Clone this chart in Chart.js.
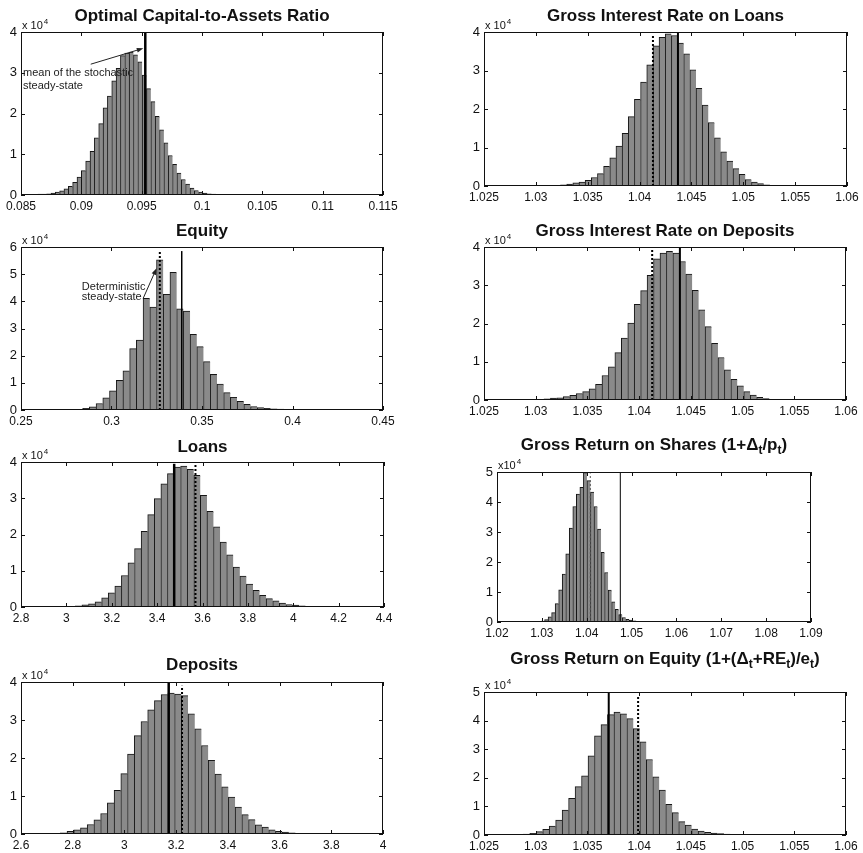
<!DOCTYPE html>
<html>
<head>
<meta charset="utf-8">
<script src="https://cdn.jsdelivr.net/npm/chart.js@4.4.1/dist/chart.umd.min.js"></script>
<style>
  body { margin: 0; background: #fff; }
  #wrap { position: relative; width: 863px; height: 853px; overflow: hidden; }
  #wrap canvas { position: absolute; }
</style>
</head>
<body>
<div id="wrap"></div>
<script>
// ---- data (counts in units of 10^4) ----
const capTicksX = [0.085, 0.09, 0.095, 0.1, 0.105, 0.11, 0.115];
const capTicksY = [0, 1, 2, 3, 4];
const capBinStart = 0.08586, capBinWidth = 0.00036;
const capCounts = [0.01,0.01,0.02,0.02,0.03,0.05,0.07,0.10,0.15,0.21,0.31,0.44,0.60,0.83,1.07,1.40,1.75,2.14,2.43,2.80,3.11,3.42,3.48,3.51,3.44,3.27,2.94,2.61,2.29,1.93,1.60,1.28,0.97,0.75,0.54,0.38,0.27,0.17,0.11,0.07,0.05,0.03,0.02,0.01,0.01,0.01,0.005,0.005,0.004,0.003];
const capMean = 0.0953;

const loanRateTicksX = [1.025, 1.03, 1.035, 1.04, 1.045, 1.05, 1.055, 1.06];
const loanRateTicksY = [0, 1, 2, 3, 4];
const loanRateBinStart = 1.02792, loanRateBinWidth = 0.000594;
const loanRateCounts = [0.005,0.005,0.01,0.01,0.01,0.01,0.02,0.02,0.03,0.05,0.08,0.10,0.15,0.22,0.32,0.51,0.73,1.04,1.37,1.80,2.25,2.70,3.15,3.64,3.86,3.95,3.91,3.71,3.43,3.02,2.54,2.10,1.65,1.25,0.89,0.65,0.45,0.30,0.17,0.10,0.06,0.03,0.02,0.01,0.01,0.01,0.005,0.005,0.005,0.003];
const loanRateSteady = 1.04129, loanRateMean = 1.04370;

const equityTicksX = [0.25, 0.3, 0.35, 0.4, 0.45];
const equityTicksY = [0, 1, 2, 3, 4, 5, 6];
const equityBinStart = 0.27107, equityBinWidth = 0.00371;
const equityCounts = [0.005,0.01,0.01,0.02,0.06,0.12,0.24,0.45,0.71,1.09,1.44,2.26,2.57,4.11,3.79,5.53,4.26,5.07,3.72,3.64,2.79,2.33,1.78,1.31,0.95,0.64,0.47,0.32,0.21,0.13,0.09,0.06,0.04,0.03,0.02,0.01,0.01,0.005,0.005,0.005,0.003,0.003,0.002];
const equitySteady = 0.3267, equityMean = 0.3388;

const depRateTicksX = [1.025, 1.03, 1.035, 1.04, 1.045, 1.05, 1.055, 1.06];
const depRateTicksY = [0, 1, 2, 3, 4];
const depRateBinStart = 1.02675, depRateBinWidth = 0.000623;
const depRateCounts = [0.005,0.005,0.005,0.01,0.01,0.01,0.02,0.03,0.05,0.06,0.09,0.12,0.17,0.22,0.29,0.41,0.64,0.87,1.24,1.62,2.01,2.50,2.86,3.26,3.69,3.84,3.89,3.84,3.62,3.29,2.87,2.36,1.92,1.48,1.11,0.79,0.54,0.37,0.22,0.13,0.07,0.04,0.02,0.01,0.01,0.01,0.005,0.005,0.005,0.003];
const depRateSteady = 1.04126, depRateMean = 1.04394;

const loansTicksX = [2.8, 3, 3.2, 3.4, 3.6, 3.8, 4, 4.2, 4.4];
const loansTicksY = [0, 1, 2, 3, 4];
const loansBinStart = 2.909, loansBinWidth = 0.029;
const loansCounts = [0.005,0.005,0.01,0.01,0.02,0.03,0.06,0.09,0.14,0.25,0.39,0.58,0.87,1.22,1.61,2.09,2.55,2.99,3.40,3.68,3.86,3.89,3.80,3.63,3.08,2.64,2.21,1.79,1.44,1.10,0.85,0.63,0.46,0.32,0.23,0.17,0.11,0.07,0.05,0.03,0.02,0.01,0.01,0.01,0.005,0.005,0.005,0.005,0.003];
const loansMean = 3.4752, loansSteady = 3.569;

const shareTicksX = [1.02, 1.03, 1.04, 1.05, 1.06, 1.07, 1.08, 1.09];
const shareTicksY = [0, 1, 2, 3, 4, 5];
const shareBinStart = 1.02706, shareBinWidth = 0.000787;
const shareCounts = [0.005,0.01,0.01,0.02,0.03,0.08,0.17,0.31,0.61,1.07,1.60,2.27,3.13,3.85,4.26,4.49,4.98,4.71,4.33,3.85,3.10,2.32,1.65,1.06,0.67,0.42,0.25,0.15,0.09,0.06,0.04,0.02,0.02,0.01,0.01,0.01,0.005,0.005,0.005,0.005,0.005,0.003,0.003,0.003,0.002,0.002];
const shareSteady = 1.0408, shareMean = 1.04749;

const depositsTicksX = [2.6, 2.8, 3, 3.2, 3.4, 3.6, 3.8, 4];
const depositsTicksY = [0, 1, 2, 3, 4];
const depositsBinStart = 2.661, depositsBinWidth = 0.026;
const depositsCounts = [0.005,0.005,0.01,0.02,0.03,0.07,0.11,0.16,0.25,0.37,0.54,0.82,1.15,1.59,2.10,2.59,2.96,3.27,3.51,3.67,3.71,3.68,3.64,3.16,2.77,2.33,1.94,1.58,1.24,0.97,0.71,0.51,0.38,0.24,0.18,0.11,0.07,0.05,0.03,0.02,0.01,0.01,0.01,0.005,0.005,0.005,0.003];
const depositsMean = 3.1712, depositsSteady = 3.2228;

const roeTicksX = [1.025, 1.03, 1.035, 1.04, 1.045, 1.05, 1.055, 1.06];
const roeTicksY = [0, 1, 2, 3, 4, 5];
const roeBinStart = 1.02598, roeBinWidth = 0.000626;
const roeCounts = [0.005,0.005,0.01,0.01,0.02,0.03,0.06,0.12,0.20,0.31,0.52,0.87,1.28,1.69,2.07,2.77,3.47,3.86,4.21,4.30,4.24,4.07,3.72,3.26,2.64,2.03,1.57,1.07,0.78,0.47,0.35,0.21,0.14,0.09,0.07,0.05,0.03,0.02,0.02,0.01,0.01,0.01,0.005,0.005,0.005,0.005,0.003];
const roeMean = 1.03706, roeSteady = 1.0399;

// ---- layout ----
const FONT = '"Liberation Sans", Arial, Helvetica, sans-serif';

const panels = [
  { title: 'Optimal Capital-to-Assets Ratio', box: [21, 32, 362, 163], pad: [21, 32, 30, 22], titleOff: 11,
    xTicks: capTicksX, yTicks: capTicksY, start: capBinStart, width: capBinWidth, counts: capCounts,
    marks: [{ v: capMean, top: 4, dash: false, w: 2.5 }],
    note: { lines: ['mean of the stochastic', 'steady-state'], x: 0.08517, y: [3.0, 2.67], arrow: [0.09078, 3.21, 0.09514, 3.6] } },
  { title: 'Gross Interest Rate on Loans', box: [484, 32, 363, 154], pad: [30, 32, 16, 22], titleOff: 11,
    xTicks: loanRateTicksX, yTicks: loanRateTicksY, start: loanRateBinStart, width: loanRateBinWidth, counts: loanRateCounts,
    marks: [{ v: loanRateSteady, top: 3.93, dash: true, w: 2 }, { v: loanRateMean, top: 4, dash: false, w: 2 }] },
  { title: 'Equity', box: [21, 247, 362, 163], pad: [21, 40, 30, 22], titleOff: 11,
    xTicks: equityTicksX, yTicks: equityTicksY, start: equityBinStart, width: equityBinWidth, counts: equityCounts,
    marks: [{ v: equitySteady, top: 5.85, dash: true, w: 2 }, { v: equityMean, top: 5.85, dash: false, w: 1.5 }],
    note: { lines: ['Deterministic', 'steady-state'], x: 0.2836, y: [4.53, 4.16], arrow: [0.3175, 4.11, 0.3249, 5.22] } },
  { title: 'Gross Interest Rate on Deposits', box: [484, 247, 362, 153], pad: [30, 40, 17, 22], titleOff: 11,
    xTicks: depRateTicksX, yTicks: depRateTicksY, start: depRateBinStart, width: depRateBinWidth, counts: depRateCounts,
    marks: [{ v: depRateSteady, top: 3.95, dash: true, w: 2 }, { v: depRateMean, top: 4, dash: false, w: 2 }] },
  { title: 'Loans', box: [21, 462, 363, 145], pad: [21, 40, 30, 22], titleOff: 10,
    xTicks: loansTicksX, yTicks: loansTicksY, start: loansBinStart, width: loansBinWidth, counts: loansCounts,
    marks: [{ v: loansMean, top: 3.95, dash: false, w: 2.5 }, { v: loansSteady, top: 3.93, dash: true, w: 2 }] },
  { title: 'Gross Return on Shares (1+Δ_t/p_t)', box: [497, 472, 314, 150], pad: [30, 45, 30, 22], titleOff: 22, x10: 'x10',
    xTicks: shareTicksX, yTicks: shareTicksY, start: shareBinStart, width: shareBinWidth, counts: shareCounts,
    marks: [{ v: shareSteady, top: 4.95, dash: true, w: 1 }, { v: shareMean, top: 5, dash: false, w: 1 }] },
  { title: 'Deposits', box: [21, 682, 362, 152], pad: [21, 40, 30, 19], titleOff: 12,
    xTicks: depositsTicksX, yTicks: depositsTicksY, start: depositsBinStart, width: depositsBinWidth, counts: depositsCounts,
    marks: [{ v: depositsMean, top: 4, dash: false, w: 2.5 }, { v: depositsSteady, top: 3.9, dash: true, w: 2 }] },
  { title: 'Gross Return on Equity (1+(Δ_t+RE_t)/e_t)', box: [484, 692, 362, 143], pad: [30, 50, 17, 18], titleOff: 28,
    xTicks: roeTicksX, yTicks: roeTicksY, start: roeBinStart, width: roeBinWidth, counts: roeCounts,
    marks: [{ v: roeMean, top: 5, dash: false, w: 2 }, { v: roeSteady, top: 4.88, dash: true, w: 2 }] }
];

function fmt(v) { return String(parseFloat(Number(v).toFixed(4))); }

function drawTitle(ctx, text, cx, baseY) {
  const big = 'bold 17px ' + FONT, small = 'bold 12px ' + FONT;
  const runs = text.split(/(_\w)/).filter(s => s).map(s => {
    const sub = s[0] === '_';
    const t = sub ? s.slice(1) : s;
    ctx.font = sub ? small : big;
    return { t, sub, w: ctx.measureText(t).width };
  });
  let x = cx - runs.reduce((a, r) => a + r.w, 0) / 2;
  ctx.textAlign = 'left';
  ctx.textBaseline = 'alphabetic';
  runs.forEach(r => {
    ctx.font = r.sub ? small : big;
    ctx.fillText(r.t, x, r.sub ? baseY + 4 : baseY);
    x += r.w;
  });
}

function drawArrow(ctx, x1, y1, x2, y2) {
  const ang = Math.atan2(y2 - y1, x2 - x1), L = 7;
  ctx.beginPath();
  ctx.moveTo(x1, y1);
  ctx.lineTo(x2 - Math.cos(ang) * 3, y2 - Math.sin(ang) * 3);
  ctx.stroke();
  ctx.beginPath();
  ctx.moveTo(x2, y2);
  ctx.lineTo(x2 - L * Math.cos(ang - 0.35), y2 - L * Math.sin(ang - 0.35));
  ctx.lineTo(x2 - L * Math.cos(ang + 0.35), y2 - L * Math.sin(ang + 0.35));
  ctx.closePath();
  ctx.fill();
}

function framePlugin(p) {
  return {
    id: 'frame',
    afterDraw(chart) {
      const { ctx, chartArea: a, scales: { x, y } } = chart;
      ctx.save();
      ctx.strokeStyle = '#111';
      ctx.fillStyle = '#111';
      ctx.lineWidth = 1;
      ctx.strokeRect(a.left + 0.5, a.top + 0.5, a.width - 1, a.height - 1);
      const tl = 4;
      ctx.beginPath();
      x.ticks.forEach(t => {
        const px = Math.round(x.getPixelForValue(t.value)) + 0.5;
        ctx.moveTo(px, a.bottom); ctx.lineTo(px, a.bottom - tl);
        ctx.moveTo(px, a.top); ctx.lineTo(px, a.top + tl);
      });
      y.ticks.forEach(t => {
        const py = Math.round(y.getPixelForValue(t.value)) + 0.5;
        ctx.moveTo(a.left, py); ctx.lineTo(a.left + tl, py);
        ctx.moveTo(a.right, py); ctx.lineTo(a.right - tl, py);
      });
      ctx.stroke();

      drawTitle(ctx, p.title, (a.left + a.right) / 2, a.top - p.titleOff);

      // exponent label
      ctx.textAlign = 'left';
      ctx.textBaseline = 'alphabetic';
      ctx.font = '11px ' + FONT;
      const lab = p.x10 || 'x 10';
      ctx.fillText(lab, a.left + 1, a.top - 3);
      const w = ctx.measureText(lab).width;
      ctx.font = '8px ' + FONT;
      ctx.fillText('4', a.left + 2 + w, a.top - 8);

      if (p.note) {
        const n = p.note;
        ctx.font = '11px ' + FONT;
        ctx.fillStyle = '#222';
        ctx.textBaseline = 'middle';
        n.lines.forEach((s, i) => ctx.fillText(s, x.getPixelForValue(n.x), y.getPixelForValue(n.y[i])));
        ctx.strokeStyle = '#222';
        ctx.lineWidth = 1;
        drawArrow(ctx, x.getPixelForValue(n.arrow[0]), y.getPixelForValue(n.arrow[1]),
                  x.getPixelForValue(n.arrow[2]), y.getPixelForValue(n.arrow[3]));
      }
      ctx.restore();
    }
  };
}

const wrap = document.getElementById('wrap');

panels.forEach(p => {
  const [bx, by, bw, bh] = p.box;
  const [pl, pt, pr, pb] = p.pad;
  const W = bw + pl + pr, H = bh + pt + pb;
  const cv = document.createElement('canvas');
  cv.width = W; cv.height = H;
  cv.style.left = (bx - pl) + 'px';
  cv.style.top = (by - pt) + 'px';
  cv.style.width = W + 'px';
  cv.style.height = H + 'px';
  wrap.appendChild(cv);

  const datasets = [{
    type: 'bar',
    data: p.counts.map((c, i) => ({ x: p.start + i * p.width, y: c })),
    backgroundColor: '#8a8a8a',
    borderColor: '#161616',
    borderWidth: { top: 1, left: 1, right: 0, bottom: 0 },
    barPercentage: 1,
    categoryPercentage: 1,
    order: 2
  }];
  p.marks.forEach(m => datasets.push({
    type: 'line',
    data: [{ x: m.v, y: 0 }, { x: m.v, y: m.top }],
    borderColor: m.dash && m.w < 1.5 ? '#555' : '#000',
    borderWidth: m.w,
    borderDash: m.dash ? [2, 2] : [],
    pointRadius: 0,
    order: 1
  }));

  const xt = p.xTicks, yt = p.yTicks;
  new Chart(cv, {
    type: 'bar',
    data: { datasets },
    options: {
      responsive: false,
      animation: false,
      devicePixelRatio: 1,
      layout: { padding: { left: 0, top: pt, right: pr, bottom: 0 } },
      plugins: { legend: { display: false }, tooltip: { enabled: false }, title: { display: false } },
      scales: {
        x: {
          type: 'linear', min: xt[0], max: xt[xt.length - 1], offset: false,
          grid: { display: false, drawTicks: false }, border: { display: false },
          afterBuildTicks: s => { s.ticks = xt.map(v => ({ value: v })); },
          afterFit: s => { s.height = pb; },
          ticks: { autoSkip: false, maxRotation: 0, padding: 4, color: '#111',
                   font: { family: FONT, size: 12 }, callback: v => fmt(v) }
        },
        y: {
          min: 0, max: yt[yt.length - 1],
          grid: { display: false, drawTicks: false }, border: { display: false },
          afterBuildTicks: s => { s.ticks = yt.map(v => ({ value: v })); },
          afterFit: s => { s.width = pl; },
          ticks: { padding: 4, color: '#111', font: { family: FONT, size: 13 }, callback: v => fmt(v) }
        }
      }
    },
    plugins: [framePlugin(p)]
  });
});
</script>
</body>
</html>
